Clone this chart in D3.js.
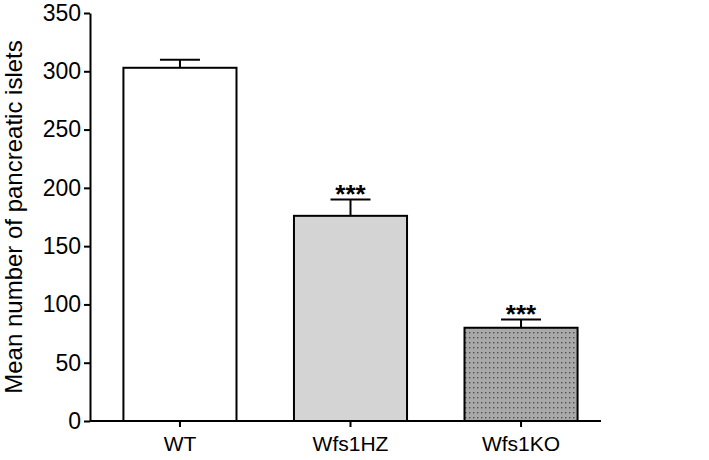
<!DOCTYPE html>
<html>
<head>
<meta charset="utf-8">
<script src="https://cdn.jsdelivr.net/npm/d3@7"></script>
<style>
  body { margin: 0; background: #fff; }
  svg text { font-family: "Liberation Sans", Arial, sans-serif; fill: #000; }
</style>
</head>
<body>
<svg id="chart" width="709" height="460"></svg>
<script>
var groups = ["WT", "Wfs1HZ", "Wfs1KO"];
var means = [303, 176, 80];
var sems = [7, 14, 7];
var stars = ["", "***", "***"];
var yTicks = [0, 50, 100, 150, 200, 250, 300, 350];

var svg = d3.select("#chart");

var x = d3.scaleBand()
    .domain(groups)
    .range([90, 611])
    .paddingInner(0.337)
    .paddingOuter(0.196);

var y = d3.scaleLinear()
    .domain([0, 350])
    .range([421, 13]);

// dotted fill for the KO bar
var defs = svg.append("defs");
var pat = defs.append("pattern")
    .attr("id", "dots")
    .attr("patternUnits", "userSpaceOnUse")
    .attr("width", 4)
    .attr("height", 5);
pat.append("rect").attr("width", 4).attr("height", 5).attr("fill", "#a9a9a9");
pat.append("rect").attr("x", 1).attr("y", 2).attr("width", 1.4).attr("height", 1.4).attr("fill", "#4f4f4f");

var fills = ["#ffffff", "#d4d4d4", "url(#dots)"];
var capHalf = 20;

// error bars (drawn first so the bar outline sits on top)
svg.selectAll(".err")
    .data(groups)
    .enter()
    .append("line")
    .attr("x1", function(d){ return x(d) + x.bandwidth()/2 })
    .attr("x2", function(d){ return x(d) + x.bandwidth()/2 })
    .attr("y1", function(d,i){ return y(means[i]) })
    .attr("y2", function(d,i){ return y(means[i] + sems[i]) })
    .attr("stroke", "#000")
    .attr("stroke-width", 2);

svg.selectAll(".cap")
    .data(groups)
    .enter()
    .append("line")
    .attr("x1", function(d){ return x(d) + x.bandwidth()/2 - capHalf })
    .attr("x2", function(d){ return x(d) + x.bandwidth()/2 + capHalf })
    .attr("y1", function(d,i){ return y(means[i] + sems[i]) })
    .attr("y2", function(d,i){ return y(means[i] + sems[i]) })
    .attr("stroke", "#000")
    .attr("stroke-width", 2);

svg.selectAll(".bar")
    .data(groups)
    .enter()
    .append("rect")
    .attr("x", function(d){ return x(d) })
    .attr("y", function(d,i){ return y(means[i]) })
    .attr("width", x.bandwidth())
    .attr("height", function(d,i){ return y(0) - y(means[i]) })
    .attr("fill", function(d,i){ return fills[i] })
    .attr("stroke", "#000")
    .attr("stroke-width", 2);

// significance stars
svg.selectAll(".star")
    .data(groups)
    .enter()
    .append("text")
    .attr("x", function(d){ return x(d) + x.bandwidth()/2 })
    .attr("y", function(d,i){ return y(means[i] + sems[i]) + 3 })
    .attr("text-anchor", "middle")
    .style("font-size", "26px")
    .style("font-weight", "bold")
    .text(function(d,i){ return stars[i] });

// axes
var yAxis = svg.append("g")
    .attr("transform", "translate(90,0)")
    .call(d3.axisLeft(y).tickValues(yTicks).tickSize(6).tickSizeOuter(0).tickPadding(3));

var xAxis = svg.append("g")
    .attr("transform", "translate(0,421)")
    .call(d3.axisBottom(x).tickSize(6).tickSizeOuter(0).tickPadding(9));
// x axis line stops a little after the last bar
xAxis.select(".domain").attr("d", "M90,0H601");

[yAxis, xAxis].forEach(function(g){
  g.selectAll("path, line").attr("stroke", "#000").attr("stroke-width", 2);
  g.attr("font-family", null);
});
yAxis.selectAll("text").style("font-size", "23px").attr("fill", "#000");
xAxis.selectAll("text").style("font-size", "21px").attr("fill", "#000");

svg.append("text")
    .attr("transform", "translate(22,217) rotate(-90)")
    .attr("text-anchor", "middle")
    .style("font-size", "24px")
    .text("Mean number of pancreatic islets");
</script>
</body>
</html>
